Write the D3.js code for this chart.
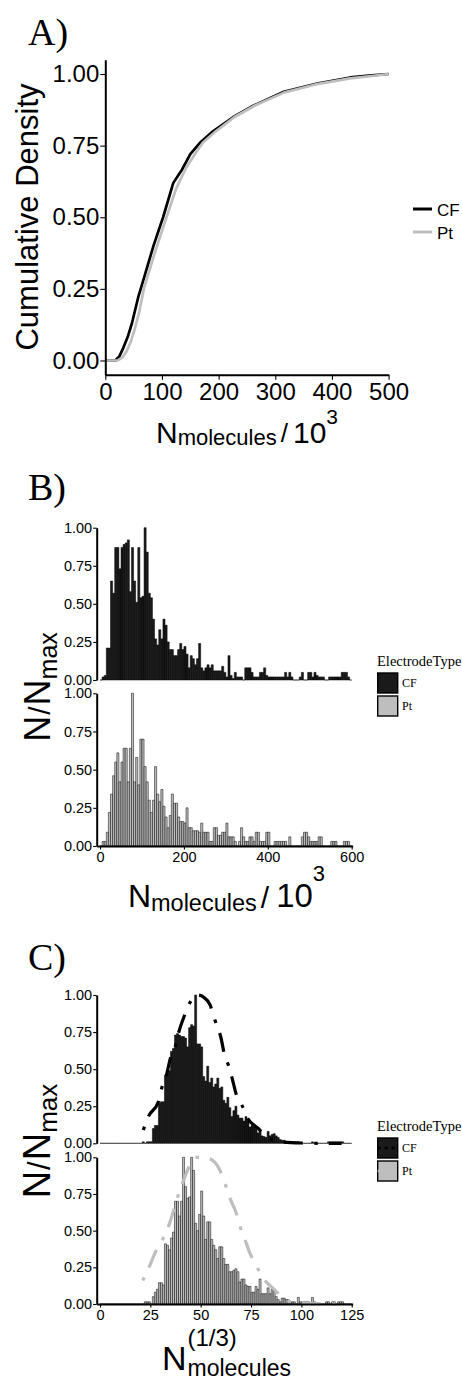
<!DOCTYPE html>
<html>
<head>
<meta charset="utf-8">
<script src="https://cdn.jsdelivr.net/npm/d3@7"></script>
<style>
  body { margin: 0; background: #fff; }
  svg { display: block; }
  text { font-family: "Liberation Sans", Arial, sans-serif; fill: #000; }
  .serif { font-family: "Liberation Serif", "Times New Roman", serif; }
</style>
</head>
<body>
<svg id="fig" width="462" height="1381"></svg>
<script>
const svg = d3.select("svg#fig");

// ---- data ----
const groups = ["CF", "Pt"];

// A) cumulative density
const ecdfXCF = [0, 18, 25, 32, 40, 47, 58, 67, 85, 102, 120, 135, 150, 167, 190, 226, 262, 315, 374, 432, 470, 500];
const ecdfYCF = [0, 0, 0.015, 0.045, 0.085, 0.13, 0.22, 0.28, 0.40, 0.50, 0.62, 0.665, 0.72, 0.76, 0.80, 0.85, 0.89, 0.938, 0.967, 0.988, 0.995, 1.0];
const ecdfXPt = [0, 22, 30, 37, 45, 52, 60, 68, 88, 108, 125, 142, 158, 172, 195, 228, 264, 315, 374, 432, 470, 500];
const ecdfYPt = [0, 0, 0.01, 0.03, 0.065, 0.11, 0.17, 0.25, 0.38, 0.50, 0.60, 0.67, 0.72, 0.76, 0.80, 0.85, 0.89, 0.935, 0.965, 0.985, 0.993, 1.0];
const ticksAx = [0, 100, 200, 300, 400, 500];
const ticksNorm = [0, 0.25, 0.5, 0.75, 1];

// B) histograms of N / 10^3, bin width 5
const binWidthB = 5;
const histBCF = [
  0, 0.02, 0.03, 0.21, 0.21, 0.65, 0.57, 0.87, 0.87, 0.73,
  0.87, 0.89, 0.90, 0.92, 0.58, 0.87, 0.65, 0.51, 0.87, 0.54,
  0.55, 1.00, 0.84, 0.57, 0.54, 0.40, 0.27, 0.23, 0.33, 0.27,
  0.40, 0.36, 0.25, 0.20, 0.20, 0.16, 0.16, 0.20, 0.24, 0.20,
  0.22, 0.17, 0.08, 0.16, 0.14, 0.10, 0.14, 0.24, 0.08, 0.06,
  0.08, 0.10, 0.08, 0.10, 0.06, 0.06, 0.06, 0.06, 0.09, 0.05,
  0.02, 0.16, 0.03, 0.01, 0.05, 0.02, 0.02, 0.02, 0.00, 0.08,
  0.08, 0.08, 0.05, 0.02, 0.02, 0.02, 0.05, 0.05, 0.08, 0.03,
  0.02, 0.02, 0.02, 0.02, 0.02, 0.02, 0.02, 0.02, 0.05, 0.02,
  0.05, 0.02, 0.00, 0.00, 0.00, 0.02, 0.05, 0.00, 0.00, 0.05,
  0.05, 0.02, 0.05, 0.03, 0.02, 0.02, 0.02, 0.00, 0.00, 0.02,
  0.02, 0.02, 0.02, 0.02, 0.02, 0.05, 0.05, 0.05, 0.02, 0.00
];
const histBPt = [
  0, 0.03, 0.03, 0.09, 0.22, 0.34, 0.46, 0.55, 0.61, 0.42,
  0.55, 0.64, 0.64, 0.42, 0.64, 1.00, 0.42, 0.58, 0.40, 0.70,
  0.70, 0.52, 0.42, 0.30, 0.22, 0.30, 0.52, 0.34, 0.29, 0.37,
  0.26, 0.19, 0.12, 0.20, 0.34, 0.28, 0.28, 0.19, 0.16, 0.16,
  0.15, 0.25, 0.12, 0.12, 0.10, 0.10, 0.10, 0.09, 0.15, 0.09,
  0.09, 0.09, 0.03, 0.03, 0.12, 0.12, 0.07, 0.07, 0.09, 0.09,
  0.15, 0.06, 0.06, 0.06, 0.03, 0.00, 0.03, 0.12, 0.06, 0.03,
  0.03, 0.06, 0.06, 0.03, 0.09, 0.09, 0.03, 0.03, 0.03, 0.09,
  0.09, 0.00, 0.00, 0.03, 0.03, 0.03, 0.03, 0.03, 0.03, 0.00,
  0.06, 0.00, 0.00, 0.00, 0.00, 0.00, 0.06, 0.09, 0.09, 0.06,
  0.03, 0.03, 0.03, 0.03, 0.06, 0.06, 0.00, 0.00, 0.00, 0.00,
  0.03, 0.03, 0.03, 0.00, 0.00, 0.00, 0.03, 0.03, 0.03, 0.00
];
const ticksBx = [0, 200, 400, 600];

// C) histograms of N^(1/3), bin width 1, plus fitted curves
const binWidthC = 1;
const histCCF = [
  0, 0, 0, 0, 0, 0, 0, 0, 0, 0,
  0, 0, 0, 0, 0, 0, 0, 0, 0, 0,
  0, 0.01, 0.00, 0.01, 0.01, 0.01, 0.10, 0.12, 0.12, 0.27,
  0.28, 0.28, 0.46, 0.47, 0.49, 0.62, 0.64, 0.73, 0.74, 0.73,
  0.72, 0.72, 0.71, 0.65, 0.78, 0.80, 0.79, 1.00, 0.67, 0.67,
  0.65, 0.45, 0.42, 0.52, 0.41, 0.44, 0.38, 0.40, 0.44, 0.37,
  0.38, 0.29, 0.27, 0.31, 0.24, 0.18, 0.22, 0.25, 0.19, 0.17,
  0.17, 0.15, 0.18, 0.15, 0.11, 0.12, 0.13, 0.10, 0.07, 0.09,
  0.05, 0.045, 0.04, 0.08, 0.05, 0.06, 0.065, 0.05, 0.04, 0.025,
  0.02, 0.02, 0.01, 0.01, 0.01, 0.01, 0.01, 0.01, 0.01, 0,
  0, 0, 0, 0, 0, 0.01, 0, 0, 0, 0,
  0, 0, 0, 0.01, 0.01, 0.01, 0.01, 0.01, 0.01, 0.01,
  0.01, 0, 0, 0, 0
];
const histCPt = [
  0, 0, 0, 0, 0, 0, 0, 0, 0, 0,
  0, 0, 0, 0, 0, 0, 0, 0, 0, 0,
  0, 0, 0.015, 0.015, 0.015, 0, 0.05, 0.08, 0.10, 0.145,
  0.145, 0.13, 0.41, 0.40, 0.37, 0.45, 0.49, 0.70, 0.70, 0.60,
  0.70, 1.00, 0.80, 0.72, 0.73, 1.00, 0.91, 0.55, 0.50, 0.61,
  0.77, 0.60, 0.44, 0.56, 0.56, 0.44, 0.40, 0.37, 0.31, 0.39,
  0.39, 0.31, 0.27, 0.27, 0.22, 0.22, 0.23, 0.24, 0.22, 0.15,
  0.17, 0.17, 0.13, 0.12, 0.12, 0.08, 0.08, 0.12, 0.10, 0.17,
  0.07, 0.07, 0.07, 0.11, 0.07, 0.10, 0.10, 0.05, 0.03, 0.015,
  0.04, 0.04, 0.03, 0.03, 0.015, 0.015, 0.015, 0, 0.045, 0.015,
  0.015, 0.015, 0.015, 0.015, 0, 0.045, 0.015, 0, 0, 0,
  0, 0, 0.015, 0.015, 0, 0.015, 0.015, 0, 0.015, 0.015,
  0.015, 0, 0, 0, 0
];
const fitXCF = [21.5, 24, 29, 30.6, 32.8, 35.3, 37.3, 38.9, 41.9, 44.7, 48.5, 51.5, 54.6, 57.1, 60.1, 62.1, 63.7, 65.4, 67.9, 70.4, 72.8, 78.6, 83.6, 90, 100, 110, 120];
const fitYCF = [0.09, 0.18, 0.28, 0.37, 0.45, 0.59, 0.65, 0.74, 0.86, 0.95, 1.00, 0.985, 0.935, 0.83, 0.71, 0.58, 0.53, 0.45, 0.32, 0.26, 0.18, 0.10, 0.036, 0.01, 0.002, 0, 0];
const fitXPt = [21.2, 24, 28.1, 31.1, 34.8, 38.1, 40.9, 44.7, 47.2, 51, 54.6, 59.6, 62.1, 64.6, 67.9, 69.5, 71.7, 74.5, 77.8, 81.1, 86.9, 91, 95, 100, 110, 120];
const fitYPt = [0.16, 0.24, 0.37, 0.44, 0.56, 0.71, 0.82, 0.95, 1.00, 1.00, 0.99, 0.91, 0.82, 0.72, 0.61, 0.53, 0.45, 0.345, 0.255, 0.175, 0.095, 0.04, 0.015, 0.008, 0.002, 0];
const ticksCx = [0, 25, 50, 75, 100, 125];

// ---- styles ----
const fillCol = { CF: "#1a1a1a", Pt: "#bebebe" };
const lineCol = { CF: "#000000", Pt: "#bebebe" };
const dotdash = "3.5,11,19,11.5";

// ---- helpers ----
function styleAxis(a, fs, width) {
  a.attr("font-family", "Liberation Sans, Arial, sans-serif").attr("font-size", fs);
  a.select(".domain").attr("stroke", "#000").attr("stroke-width", width);
  a.selectAll(".tick line").attr("stroke", "#000").attr("stroke-width", 1.1);
  a.selectAll(".tick text").attr("fill", "#111");
}

function mathText(px, py, parts, rotate) {
  const g = svg.append("g");
  let x = 0, lastStart = 0;
  parts.forEach(p => {
    if (p.stack) x = lastStart; else lastStart = x + (p.gap || 0);
    x = lastStart;
    const t = g.append("text").attr("x", x).attr("y", p.dy || 0)
      .attr("font-size", p.size).text(p.t);
    if (p.light) t.attr("fill", "#333");
    x += t.node().getComputedTextLength();
  });
  if (rotate) g.attr("transform", `translate(${px},${py}) rotate(-90) translate(${-x / 2},0)`);
  else g.attr("transform", `translate(${px - x / 2},${py})`);
}

function drawHist(vals, bw, x, y, fill) {
  svg.append("g").selectAll("path").data(vals).join("path")
    .attr("d", (v, i) => {
      const x0 = x(i * bw), x1 = x((i + 1) * bw), y0 = y(0), y1 = y(v);
      return `M${x0},${y0}V${y1}H${x1}V${y0}Z`;
    })
    .attr("fill", fill).attr("stroke", "#000").attr("stroke-width", 0.5);
}

function panelLetter(t, y) {
  svg.append("text").attr("class", "serif").attr("x", 28).attr("y", y)
    .attr("font-size", 38).text(t);
}

// ================= A =================
const xA = d3.scaleLinear().domain([0, 500]).range([105.3, 388.6]);
const yA = d3.scaleLinear().domain([-0.05, 1.05]).range([374.8, 59.7]);

panelLetter("A)", 45);

const lineA = d3.line().x(d => xA(d[0])).y(d => yA(d[1]));
const ecdf = {
  CF: ecdfXCF.map((v, i) => [v, ecdfYCF[i]]),
  Pt: ecdfXPt.map((v, i) => [v, ecdfYPt[i]])
};
groups.forEach(k => {
  svg.append("path").attr("d", lineA(ecdf[k])).attr("fill", "none")
    .attr("stroke", lineCol[k]).attr("stroke-width", 2.7).attr("stroke-linejoin", "round");
});

svg.append("g").attr("transform", `translate(${xA(0)},0)`)
  .call(d3.axisLeft(yA).tickValues(ticksNorm).tickFormat(d3.format(".2f"))
    .tickSize(5).tickPadding(1).tickSizeOuter(0))
  .call(a => styleAxis(a, 24, 2));
svg.append("g").attr("transform", `translate(0,${yA.range()[0]})`)
  .call(d3.axisBottom(xA).tickValues(ticksAx).tickSize(5).tickPadding(3).tickSizeOuter(0))
  .call(a => styleAxis(a, 24, 2));

mathText(38, 217, [{ t: "Cumulative Density", size: 31 }], true);
mathText(247, 443, [
  { t: "N", size: 30 },
  { t: "molecules", size: 22, dy: 2 },
  { t: "/", size: 26, gap: 4, dy: -1, light: true },
  { t: "10", size: 30, gap: 5 },
  { t: "3", size: 21, dy: -19 }
]);

// legend A
const legA = svg.append("g").attr("transform", "translate(413,209)");
groups.forEach((k, i) => {
  legA.append("line").attr("x1", 0).attr("x2", 19).attr("y1", i * 23).attr("y2", i * 23)
    .attr("stroke", lineCol[k]).attr("stroke-width", 3);
  legA.append("text").attr("x", 24).attr("y", i * 23 + 7).attr("font-size", 17).text(k);
});

// ================= B =================
const xB = d3.scaleLinear().domain([-7.9, 602.4]).range([96.7, 352.7]);
const yBt = d3.scaleLinear().domain([0, 1]).range([680, 527.7]);
const yBb = d3.scaleLinear().domain([0, 1]).range([846, 693.3]);

panelLetter("B)", 500);

drawHist(histBCF, binWidthB, xB, yBt, fillCol.CF);
drawHist(histBPt, binWidthB, xB, yBb, fillCol.Pt);

[yBt, yBb].forEach(y => {
  svg.append("g").attr("transform", `translate(${xB.range()[0]},0)`)
    .call(d3.axisLeft(y).tickValues(ticksNorm).tickFormat(d3.format(".2f"))
      .tickSize(3.5).tickPadding(1).tickSizeOuter(0))
    .call(a => styleAxis(a, 14.5, 2));
});
svg.append("g").attr("transform", `translate(0,${yBb(0)})`)
  .call(d3.axisBottom(xB).tickValues(ticksBx).tickSize(3.5).tickPadding(2).tickSizeOuter(0))
  .call(a => styleAxis(a, 14.5, 2));

mathText(50, 687, [
  { t: "N", size: 36 },
  { t: "/", size: 30, gap: 1, light: true },
  { t: "N", size: 36, gap: 1 },
  { t: "max", size: 25, dy: 7 }
], true);
mathText(226.5, 907, [
  { t: "N", size: 32 },
  { t: "molecules", size: 23.5, dy: 4 },
  { t: "/", size: 30, gap: 4, dy: 1, light: true },
  { t: "10", size: 33, gap: 7 },
  { t: "3", size: 22, dy: -26 }
]);

function legendBox(y0) {
  const g = svg.append("g").attr("transform", `translate(377,${y0})`);
  g.append("text").attr("class", "serif").attr("x", 0).attr("y", 0)
    .attr("font-size", 14.5).text("ElectrodeType");
  groups.forEach((k, i) => {
    g.append("rect").attr("x", 0.7).attr("y", 7 + i * 23).attr("width", 20).attr("height", 20)
      .attr("fill", fillCol[k]).attr("stroke", "#000").attr("stroke-width", 1.4);
    g.append("text").attr("class", "serif").attr("x", 25).attr("y", 21 + i * 23)
      .attr("font-size", 12).text(k);
  });
  return g;
}
legendBox(666);

// ================= C =================
const xC = d3.scaleLinear().domain([-1.64, 125.5]).range([96.7, 352.7]);
const yCt = d3.scaleLinear().domain([0, 1]).range([1143.3, 995]);
const yCb = d3.scaleLinear().domain([0, 1]).range([1304, 1157.3]);

panelLetter("C)", 970);

drawHist(histCCF, binWidthC, xC, yCt, fillCol.CF);
drawHist(histCPt, binWidthC, xC, yCb, fillCol.Pt);

const fits = {
  CF: { y: yCt, pts: fitXCF.map((v, i) => [v, fitYCF[i]]) },
  Pt: { y: yCb, pts: fitXPt.map((v, i) => [v, fitYPt[i]]) }
};
groups.forEach(k => {
  const f = fits[k];
  const ln = d3.line().x(d => xC(d[0])).y(d => f.y(d[1])).curve(d3.curveMonotoneX);
  svg.append("path").attr("d", ln(f.pts)).attr("fill", "none")
    .attr("stroke", lineCol[k]).attr("stroke-width", 3.2).attr("stroke-dasharray", dotdash);
});

[yCt, yCb].forEach(y => {
  svg.append("g").attr("transform", `translate(${xC.range()[0]},0)`)
    .call(d3.axisLeft(y).tickValues(ticksNorm).tickFormat(d3.format(".2f"))
      .tickSize(3.5).tickPadding(1).tickSizeOuter(0))
    .call(a => styleAxis(a, 14.5, 2));
});
svg.append("g").attr("transform", `translate(0,${yCb(0)})`)
  .call(d3.axisBottom(xC).tickValues(ticksCx).tickSize(3.5).tickPadding(2).tickSizeOuter(0))
  .call(a => styleAxis(a, 14.5, 2));

mathText(50, 1141, [
  { t: "N", size: 38 },
  { t: "/", size: 31, gap: 1, light: true },
  { t: "N", size: 38, gap: 1 },
  { t: "max", size: 26, dy: 7 }
], true);
mathText(226.5, 1370, [
  { t: "N", size: 34 },
  { t: "(1/3)", size: 24, gap: 1, dy: -24 },
  { t: "molecules", size: 23, dy: 6, stack: true }
]);

const legC = legendBox(1131);
groups.forEach((k, i) => {
  legC.append("line").attr("x1", 0.7).attr("x2", 20.7).attr("y1", 17 + i * 23).attr("y2", 17 + i * 23)
    .attr("stroke", lineCol[k]).attr("stroke-width", 2.5).attr("stroke-dasharray", "3,4");
});
</script>
</body>
</html>
